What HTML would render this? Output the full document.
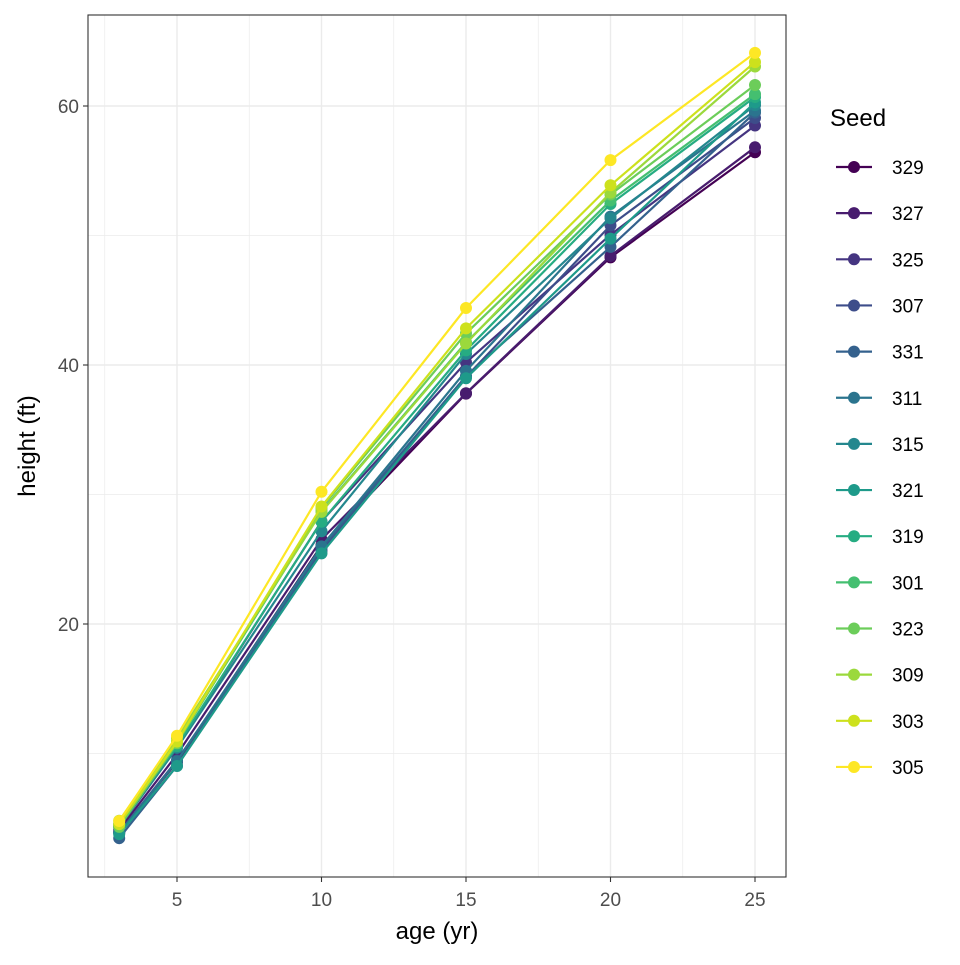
<!DOCTYPE html>
<html><head><meta charset="utf-8"><style>
body{margin:0;background:#fff;font-family:"Liberation Sans",sans-serif}
</style></head><body>
<svg id="c" width="960" height="960" xmlns="http://www.w3.org/2000/svg"></svg>
<script>
const ages=[3,5,10,15,20,25];
const seeds=["329","327","325","307","331","311","315","321","319","301","323","309","303","305"];
const h329=[3.93,9.34,26.08,37.79,48.31,56.43];
const h327=[4.12,9.92,26.54,37.82,48.43,56.81];
const h325=[4.38,10.48,27.93,40.20,50.06,58.49];
const h307=[3.91,9.48,25.66,39.07,50.78,59.07];
const h331=[3.46,9.05,25.85,39.15,49.12,59.49];
const h311=[3.88,9.40,25.99,39.55,51.46,59.64];
const h315=[4.32,10.43,27.16,40.85,51.33,60.07];
const h321=[3.77,9.03,25.45,38.98,49.76,60.28];
const h319=[4.57,10.57,27.90,41.13,52.43,60.69];
const h301=[4.51,10.89,28.72,41.74,52.70,60.92];
const h323=[4.33,10.79,28.97,42.44,53.17,61.62];
const h309=[4.81,11.20,28.66,41.66,53.31,63.05];
const h303=[4.55,10.92,29.07,42.83,53.88,63.39];
const h305=[4.79,11.37,30.21,44.40,55.82,64.10];
const heights=[h329,h327,h325,h307,h331,h311,h315,h321,h319,h301,h323,h309,h303,h305];
const colors=["#440154","#481C6E","#453581","#3D4D8A","#34618D","#2B748E","#24878E","#1E9A8A","#26AC82","#44BF70","#6CCD5A","#9BD93C","#CDE11D","#FDE725"];
const xTicks=[5,10,15,20,25];
const yTicks=[20,40,60];
const X0=88,X1=786,Y0=15,Y1=877;
const sx=v=>177+(v-5)*28.9;
const sy=v=>365-(v-40)*12.95;
const svg=document.getElementById('c');
const NS="http://www.w3.org/2000/svg";
function mk(t,a,p){const e=document.createElementNS(NS,t);for(const k in a)e.setAttribute(k,a[k]);(p||svg).appendChild(e);return e;}
[2.5,7.5,12.5,17.5,22.5].forEach(v=>{const l=mk('line',{x1:sx(v),x2:sx(v),y1:Y0,y2:Y1,stroke:'#ebebeb','stroke-width':0.7});

});
[10,30,50].forEach(v=>{const l=mk('line',{x1:X0,x2:X1,y1:sy(v),y2:sy(v),stroke:'#ebebeb','stroke-width':0.7});

});
xTicks.forEach(v=>{const l=mk('line',{x1:sx(v),x2:sx(v),y1:Y0,y2:Y1,stroke:'#ebebeb','stroke-width':1.4});


const t=mk('line',{x1:sx(v),x2:sx(v),y1:Y1,y2:Y1+5,stroke:'#333','stroke-width':1.1});


const tx=mk('text',{x:sx(v),y:906,'text-anchor':'middle','font-size':19,fill:'#4d4d4d'});tx.textContent=v;

});
yTicks.forEach(v=>{const l=mk('line',{x1:X0,x2:X1,y1:sy(v),y2:sy(v),stroke:'#ebebeb','stroke-width':1.4});


const t=mk('line',{x1:X0-5,x2:X0,y1:sy(v),y2:sy(v),stroke:'#333','stroke-width':1.1});


const tx=mk('text',{x:X0-9,y:sy(v)+7,'text-anchor':'end','font-size':19,fill:'#4d4d4d'});tx.textContent=v;

});
heights.forEach((hs,i)=>{const g=mk('g',{});


const p=mk('polyline',{points:ages.map((a,j)=>sx(a)+','+sy(hs[j])).join(' '),fill:'none',stroke:colors[i],'stroke-width':2.2},g);


ages.forEach((a,j)=>{const c=mk('circle',{cx:sx(a),cy:sy(hs[j]),r:6,fill:colors[i]},g);

});});
const fr=mk('rect',{x:X0,y:Y0,width:X1-X0,height:Y1-Y0,fill:'none',stroke:'#333','stroke-width':1.1});


const xt=mk('text',{x:437,y:939,'text-anchor':'middle','font-size':24,fill:'#000'});xt.textContent='age (yr)';


const yt=mk('text',{x:0,y:0,'text-anchor':'middle','font-size':24,fill:'#000',transform:'translate(35,446) rotate(-90)'});yt.textContent='height (ft)';


const lt=mk('text',{x:830,y:126,'font-size':24,fill:'#000'});lt.textContent='Seed';


seeds.forEach((s,i)=>{const y=167+i*46.15;const g=mk('g',{});


mk('line',{x1:836,x2:872,y1:y,y2:y,stroke:colors[i],'stroke-width':2.2},g);
mk('circle',{cx:854,cy:y,r:6,fill:colors[i]},g);
const t=mk('text',{x:892,y:y+7,'font-size':19,fill:'#000'},g);t.textContent=s;});
</script>
</body></html>
